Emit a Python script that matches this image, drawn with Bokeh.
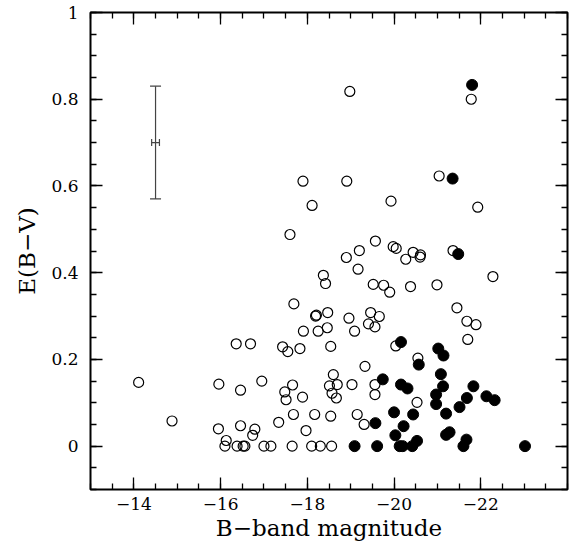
from bokeh.plotting import figure
from bokeh.models import Range1d, LinearAxis, FixedTicker, Whisker, ColumnDataSource, TeeHead
from bokeh.embed import file_html
from bokeh.resources import INLINE

# open circles
open_mag = [-18.98, -21.78, -17.90, -18.91, -21.04, -18.11, -19.93, -21.93, -17.60, -19.57,
            -19.20, -18.90, -19.98, -20.05, -20.44, -20.27, -20.61, -20.60, -21.36, -19.17,
            -18.37, -18.42, -22.28, -19.52, -19.76, -19.90, -20.38, -20.99, -17.69, -18.19,
            -18.21, -18.47, -18.96, -19.46, -19.66, -19.41, -19.56, -17.91, -18.25, -18.46,
            -19.09, -21.45, -21.68, -21.89, -21.70, -16.36, -16.69, -17.43, -17.55, -17.83,
            -18.54, -20.04, -20.55, -19.33, -14.11, -15.96, -16.46, -16.95, -17.48, -17.51,
            -17.66, -17.89, -18.60, -18.51, -18.69, -18.57, -18.67, -19.03, -19.56, -19.56,
            -20.53, -14.88, -15.95, -16.46, -16.79, -16.74, -16.13, -17.34, -17.68, -17.97,
            -18.17, -18.54, -19.15, -19.31,
            -16.10, -16.38, -16.52, -16.56, -17.00, -17.16, -17.65, -18.10, -18.30, -18.56]
open_ebv = [0.818, 0.800, 0.611, 0.611, 0.623, 0.555, 0.565, 0.551, 0.488, 0.473,
            0.451, 0.435, 0.460, 0.456, 0.447, 0.431, 0.441, 0.436, 0.451, 0.408,
            0.394, 0.375, 0.391, 0.373, 0.371, 0.355, 0.368, 0.372, 0.328, 0.300,
            0.302, 0.308, 0.295, 0.308, 0.299, 0.282, 0.275, 0.265, 0.265, 0.273,
            0.265, 0.319, 0.288, 0.280, 0.246, 0.236, 0.236, 0.229, 0.218, 0.225,
            0.230, 0.231, 0.203, 0.184, 0.147, 0.143, 0.129, 0.150, 0.125, 0.107,
            0.141, 0.113, 0.165, 0.139, 0.142, 0.122, 0.111, 0.142, 0.142, 0.119,
            0.101, 0.058, 0.040, 0.047, 0.039, 0.025, 0.013, 0.055, 0.073, 0.036,
            0.073, 0.069, 0.073, 0.050,
            0.0, 0.0, 0.0, 0.0, 0.0, 0.0, 0.0, 0.0, 0.0, 0.0]

# filled circles
fill_mag = [-21.80, -21.35, -21.48, -20.16, -21.02, -21.14, -20.57, -19.74, -20.16, -20.31,
            -21.08, -21.13, -20.97, -20.97, -21.83, -21.68, -21.51, -22.13, -22.32, -20.00,
            -20.44, -21.20, -19.57, -20.22, -20.03, -21.20, -21.28, -20.53, -21.67,
            -19.09, -19.61, -20.13, -20.20, -20.42, -21.60, -23.02]
fill_ebv = [0.833, 0.617, 0.443, 0.240, 0.225, 0.209, 0.188, 0.154, 0.142, 0.133,
            0.166, 0.138, 0.119, 0.097, 0.138, 0.111, 0.090, 0.115, 0.106, 0.078,
            0.073, 0.075, 0.053, 0.046, 0.025, 0.026, 0.032, 0.012, 0.015,
            0.0, 0.0, 0.0, 0.0, 0.0, 0.0, 0.0]

# typical error bar
err_mag = [-14.5]
err_ebv = [0.70]
err_dmag = [0.09]
err_debv = [0.13]

x_ticks = [-14, -16, -18, -20, -22]
x_labels = {-14: "\u221214", -16: "\u221216", -18: "\u221218", -20: "\u221220", -22: "\u221222"}
y_ticks = [0, 0.2, 0.4, 0.6, 0.8, 1]
y_labels = {0: "0", 0.2: "0.2", 0.4: "0.4", 0.6: "0.6", 0.8: "0.8", 1: "1"}

FONT = "DejaVu Serif"

p = figure(width=570, height=546, output_backend="svg", toolbar_location=None,
           x_range=Range1d(-13, -24), y_range=Range1d(-0.1, 1),
           min_border_left=90, min_border_right=3, min_border_top=12, min_border_bottom=57)
p.grid.visible = False
p.background_fill_color = "white"
p.border_fill_color = "white"
p.outline_line_color = "black"
p.outline_line_width = 2

def style_axis(ax, labels=True):
    ax.axis_line_color = None
    ax.major_tick_in = 12
    ax.major_tick_out = 0
    ax.minor_tick_in = 6
    ax.minor_tick_out = 0
    ax.major_tick_line_width = 1.3
    ax.minor_tick_line_width = 1.3
    ax.major_tick_line_color = "black"
    ax.minor_tick_line_color = "black"
    if labels:
        ax.major_label_text_font = FONT
        ax.major_label_text_font_size = "17px"
        ax.major_label_text_color = "black"
        ax.axis_label_text_font = FONT
        ax.axis_label_text_font_size = "23px"
        ax.axis_label_text_font_style = "normal"
        ax.axis_label_text_color = "black"
    else:
        ax.major_label_standoff = 0
        ax.axis_label = None

xt = FixedTicker(ticks=x_ticks, minor_ticks=[-13 - 0.5 * i for i in range(23)])
yt = FixedTicker(ticks=y_ticks, minor_ticks=[-0.1 + 0.05 * i for i in range(23)])

p.xaxis.ticker = xt
p.yaxis.ticker = yt
p.xaxis.major_label_overrides = x_labels
p.yaxis.major_label_overrides = y_labels
p.xaxis.axis_label = "B\u2212band magnitude"
p.yaxis.axis_label = "E(B\u2212V)"
style_axis(p.xaxis[0])
style_axis(p.yaxis[0])
p.xaxis.major_label_standoff = 8
p.yaxis.major_label_standoff = 12
p.xaxis.axis_label_standoff = 2
p.yaxis.axis_label_standoff = 8

top = LinearAxis(ticker=xt, major_label_overrides={t: "" for t in x_ticks})
right = LinearAxis(ticker=yt, major_label_overrides={t: "" for t in y_ticks})
style_axis(top, labels=False)
style_axis(right, labels=False)
p.add_layout(top, "above")
p.add_layout(right, "right")

p.scatter(open_mag, open_ebv, marker="circle", size=10, fill_color=None,
          line_color="black", line_width=1.2)
p.scatter(fill_mag, fill_ebv, marker="circle", size=11, fill_color="black",
          line_color="black", line_width=1)

src = ColumnDataSource(dict(
    x=err_mag, y=err_ebv,
    ylo=[err_ebv[0] - err_debv[0]], yhi=[err_ebv[0] + err_debv[0]],
    xlo=[err_mag[0] + err_dmag[0]], xhi=[err_mag[0] - err_dmag[0]]))
wv = Whisker(source=src, base="x", lower="ylo", upper="yhi", dimension="height",
             line_color="#444444", line_width=1.2,
             lower_head=TeeHead(size=11, line_color="#444444", line_width=1.2),
             upper_head=TeeHead(size=11, line_color="#444444", line_width=1.2))
wh = Whisker(source=src, base="y", lower="xlo", upper="xhi", dimension="width",
             line_color="#444444", line_width=1.2,
             lower_head=TeeHead(size=7, line_color="#444444", line_width=1.2),
             upper_head=TeeHead(size=7, line_color="#444444", line_width=1.2))
p.add_layout(wv)
p.add_layout(wh)

open("out.html", "w").write(file_html(p, INLINE))
